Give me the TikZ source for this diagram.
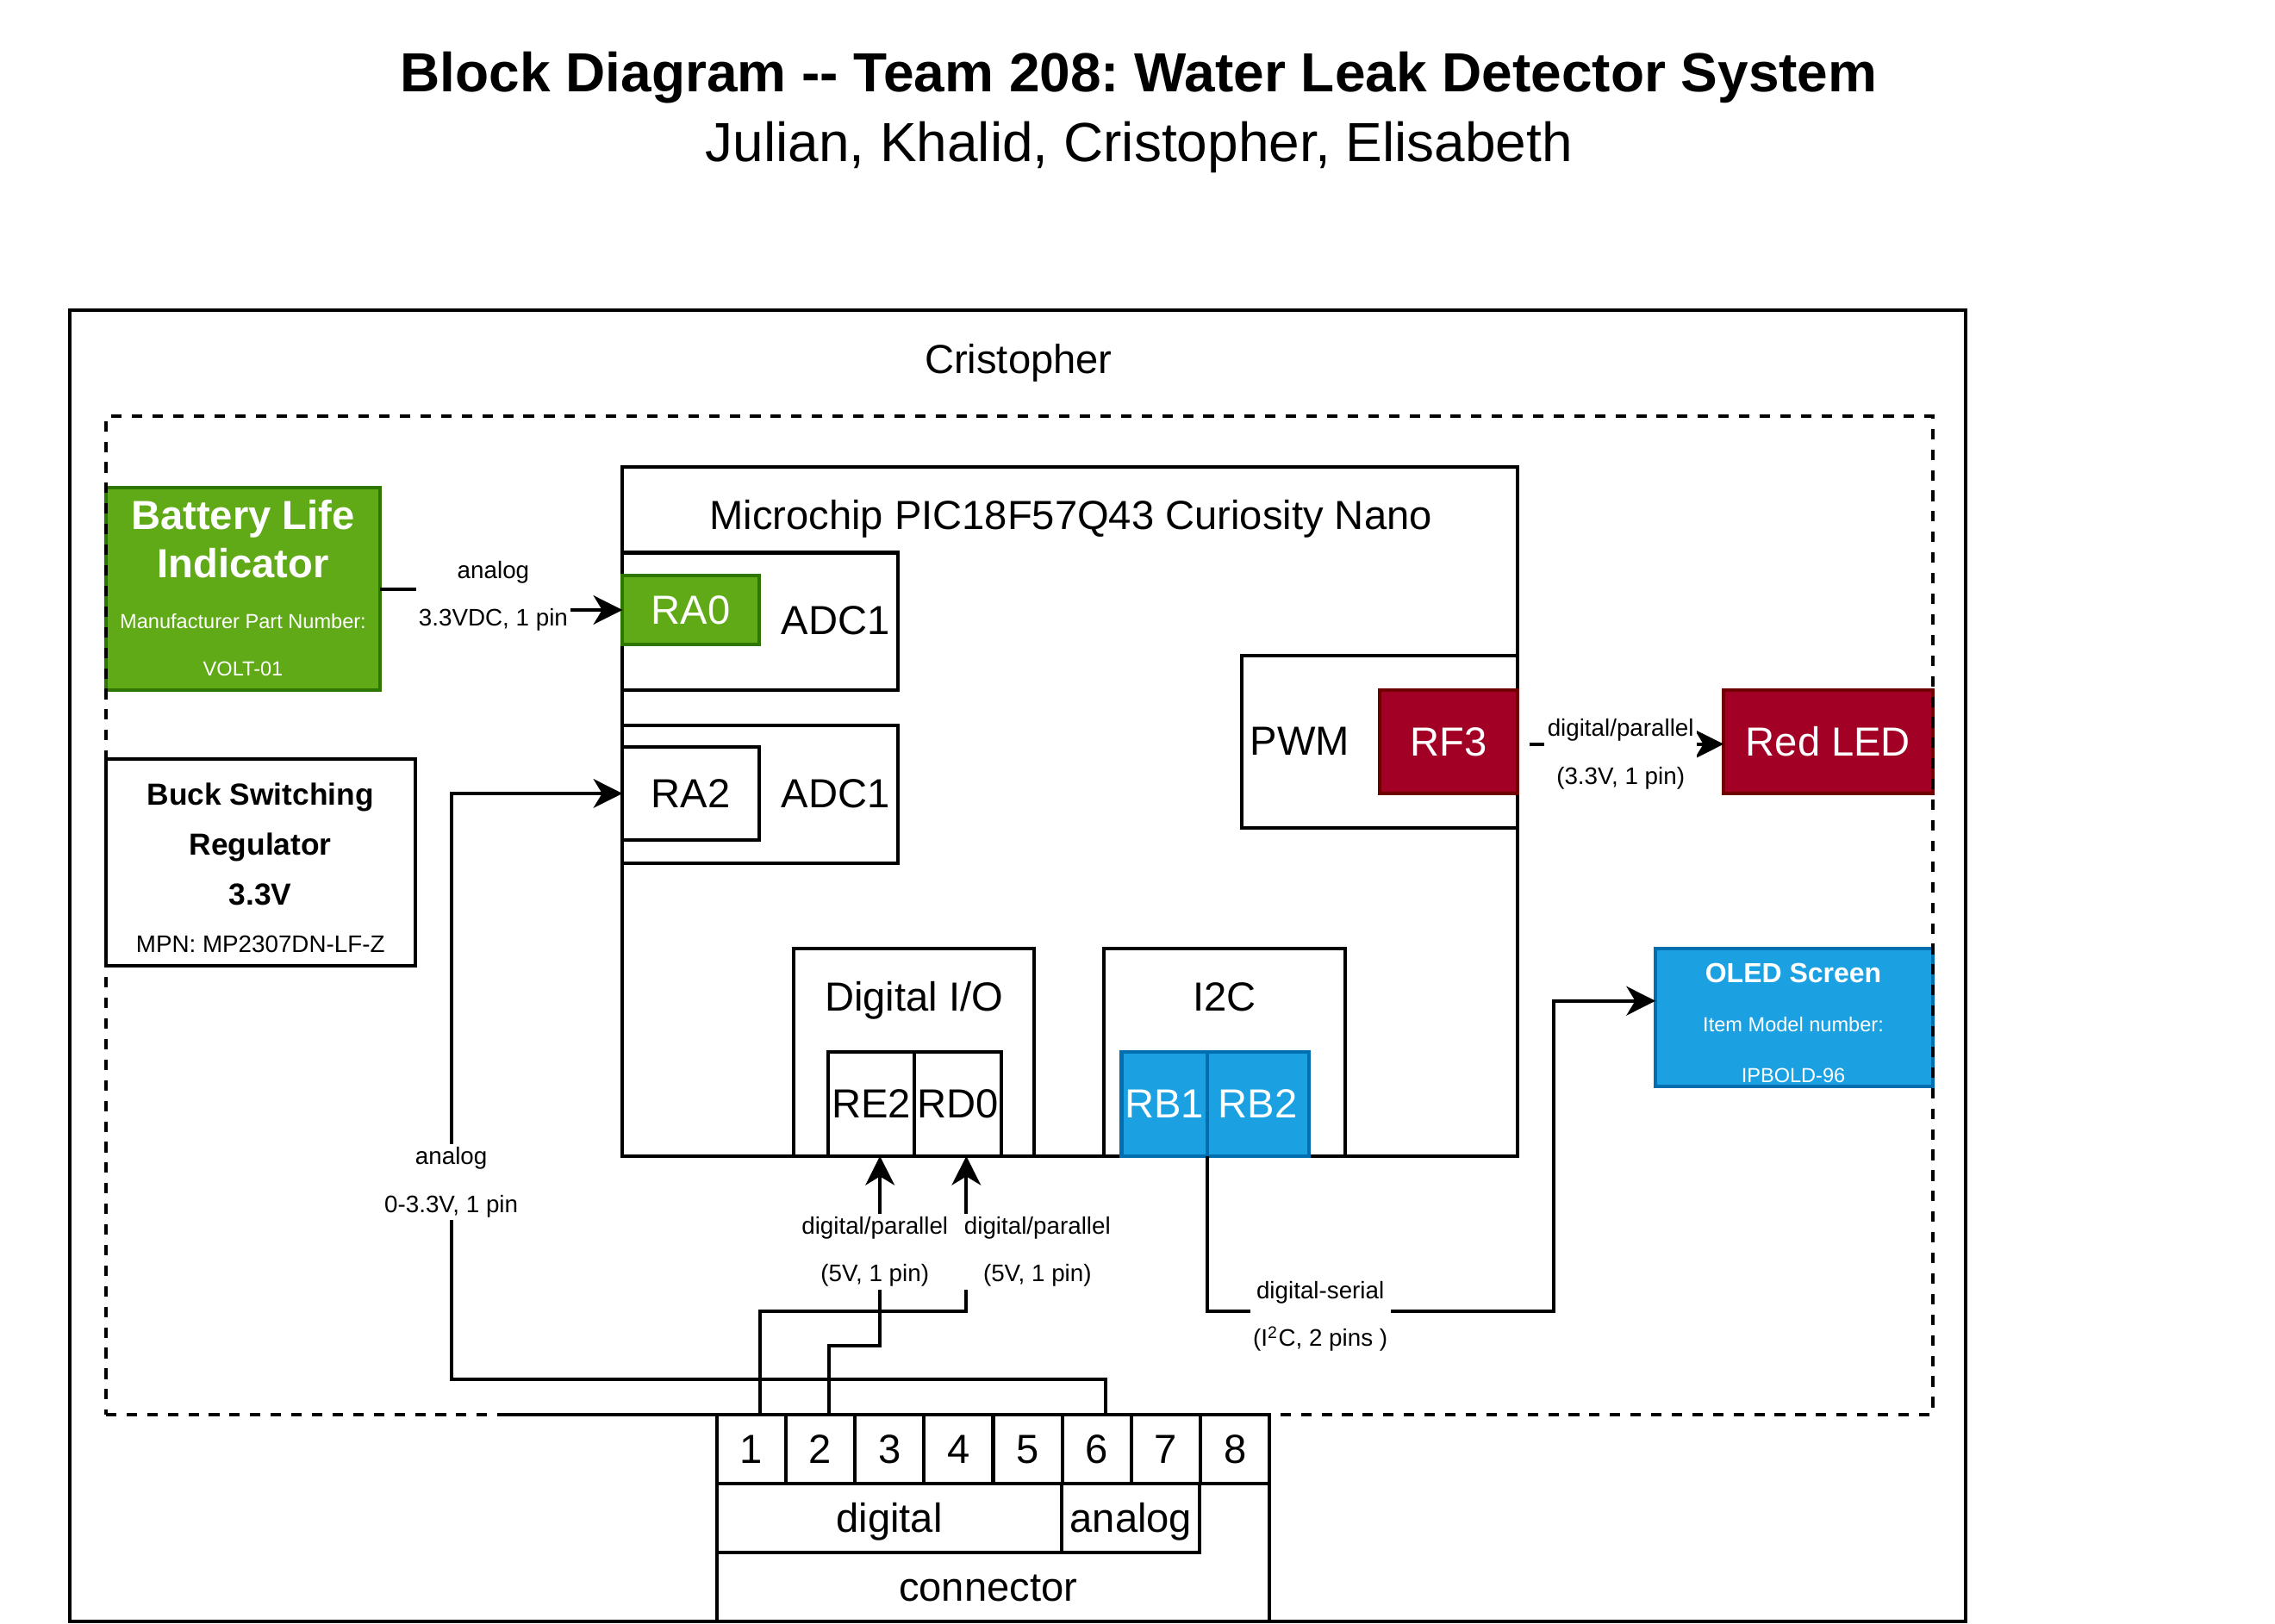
\documentclass[tikz,border=0pt]{standalone}
\usepackage{fontspec}
\setmainfont{Liberation Sans}
\usetikzlibrary{arrows.meta,calc}
\definecolor{gfill}{HTML}{60A917}
\definecolor{gline}{HTML}{2D7600}
\definecolor{rfill}{HTML}{A20025}
\definecolor{rline}{HTML}{6F0000}
\definecolor{bfill}{HTML}{1BA1E2}
\definecolor{bline}{HTML}{006EAF}
\frenchspacing
\tikzset{
  wire/.style={line width=1.2pt, draw=black},
  arr/.style={-{Stealth[length=10pt,width=10pt,inset=3pt]}},
  box/.style={draw=black, line width=1.2pt, fill=white, rectangle, inner sep=0pt},
  gbox/.style={box, fill=gfill, draw=gline, text=white},
  rbox/.style={box, fill=rfill, draw=rline, text=white},
  bbox/.style={box, fill=bfill, draw=bline, text=white},
  big/.style={font=\fontsize{14}{16.5}\selectfont, text height=12.67pt, text depth=2.97pt},
  huge/.style={font=\fontsize{19}{22}\selectfont, text height=17.2pt, text depth=4.03pt},
  lab/.style={fill=white, inner sep=1pt, align=center, font=\fontsize{8.25}{16.5}\selectfont},
  txt/.style={inner sep=0pt, align=center},
  group/.style={draw=black, line width=1.2pt, dash pattern=on 3.6pt off 3.5pt, rectangle, inner sep=0pt},
}
\begin{document}
\begin{tikzpicture}[x=0.5pt,y=-0.5pt, every node/.style={inner sep=0pt, outer sep=0pt}]
\useasboundingbox[fill=white] (0,0) rectangle (1568,1119);

% titles
\node[huge, font=\fontsize{19}{22}\selectfont\bfseries] (title) at (785,50) {Block Diagram {-}{-} Team 208: Water Leak Detector System};
\node[huge] (sub) at (785,98) {Julian, Khalid, Cristopher, Elisabeth};

% outer frame
\node[box, minimum width=653.5pt, minimum height=452pt] (outer) at (701.5,666) {};
\node[big] (crist) at (702,248) {Cristopher};

% battery
\node[gbox, minimum width=94.5pt, minimum height=70pt] (battery) at (167.5,406) {};
\node[txt, text=white, font=\fontsize{14}{16.5}\selectfont\bfseries] (battxt) at (167.5,371.5) {Battery Life\\Indicator};
\node[txt, text=white, font=\fontsize{7}{16.5}\selectfont] (batmpn) at (167.5,444.5) {Manufacturer Part Number:\\VOLT-01};

% buck
\node[box, minimum width=106.5pt, minimum height=71.5pt] (buck) at (179.5,594.5) {};
\node[txt, font=\fontsize{10.5}{17.2}\selectfont\bfseries] (bucktxt) at (179.5,582) {Buck Switching\\Regulator\\3.3V};
\node[txt, font=\fontsize{8.25}{10}\selectfont] (buckmpn) at (179.5,651) {MPN: MP2307DN-LF-Z};

% microcontroller
\node[box, minimum width=308.5pt, minimum height=237.5pt] (mcu) at (737.5,559.5) {};
\node[big] (mcutxt) at (738,355) {Microchip PIC18F57Q43 Curiosity Nano};
\node[box, minimum width=95pt, minimum height=47.5pt] (adca) at (524,428.5) {};
\node[gbox, big, minimum width=47pt, minimum height=23.5pt] (ra0) at (476,420.5) {RA0};
\node[big] (adcatxt) at (576,428) {ADC1};
\node[box, minimum width=95pt, minimum height=47.5pt] (adcb) at (524,547.5) {};
\node[box, big, minimum width=47pt, minimum height=32pt] (ra2) at (476,547) {RA2};
\node[big] (adcbtxt) at (576,547) {ADC1};
\node[box, minimum width=95pt, minimum height=59.5pt] (pwm) at (951,511.5) {};
\node[big] (pwmtxt) at (896,511) {PWM};
\node[rbox, big, minimum width=47.5pt, minimum height=35.5pt] (rf3) at (998.5,511.5) {RF3};
\node[box, minimum width=83pt, minimum height=71.5pt] (dio) at (630,725.5) {};
\node[big] (diotxt) at (630,687) {Digital I/O};
\node[box, big, minimum width=29.5pt, minimum height=36pt] (re2) at (600.5,761) {RE2};
\node[box, big, minimum width=30pt, minimum height=36pt] (rd0) at (660,761) {RD0};
\node[box, minimum width=83pt, minimum height=71.5pt] (i2c) at (844,725.5) {};
\node[big] (i2ctxt) at (844,687) {I2C};
\node[bbox, big, minimum width=29.5pt, minimum height=36pt] (rb1) at (802.5,761) {RB1};
\node[bbox, big, minimum width=35pt, minimum height=36pt] (rb2) at (867,761) {RB2};

% peripherals
\node[rbox, big, minimum width=72pt, minimum height=35.5pt] (led) at (1260,511.5) {Red LED};
\node[bbox, minimum width=95.5pt, minimum height=47.5pt] (oled) at (1236.5,701.5) {};
\node[txt, text=white, font=\fontsize{9.5}{11}\selectfont\bfseries] (oledt) at (1236,671) {OLED Screen};
\node[txt, text=white, font=\fontsize{7}{17.5}\selectfont] (oledm) at (1236,723.5) {Item Model number:\\IPBOLD-96};

% connector
\node[box, minimum width=190.5pt, minimum height=71.5pt] (conn) at (684.5,1046.5) {};
\foreach \i in {1,...,8} {
  \node[box, big, minimum width=23.8125pt, minimum height=24pt] (pin\i) at ({494+47.625*(\i-0.5)},999) {\i};
}
\node[box, big, minimum width=119pt, minimum height=23.5pt] (dig) at (613,1046.5) {digital};
\node[box, big, minimum width=47.5pt, minimum height=23.5pt] (ana) at (779.5,1046.5) {analog};
\node[big] (conntxt) at (681,1094) {connector};

% connectors
\coordinate (c1) at (340,408);
\draw[wire, arr] (battery.east) -| (c1) |- (ra0.west);
\node[lab] (l1) at (340,411) {analog\\3.3VDC, 1 pin};

\coordinate (c2) at (311,815);
\draw[wire, arr] ($(pin6.north)+(6,0)$) -- ++(0,-24) -| (c2) |- (ra2.west);
\node[lab] (l2) at (c2) {analog\\0-3.3V, 1 pin};

\draw[wire, arr] ($(pin2.north)+(6,0)$) -- ++(0,-47) -| ($(re2.south)+(6,0)$);
\draw[wire, arr] ($(pin1.north)+(6,0)$) -- ++(0,-71) -| ($(rd0.south)+(6,0)$);
\node[lab] (l3) at (603,863) {digital/parallel\\(5V, 1 pin)};
\node[lab] (l4) at (715,863) {digital/parallel\\(5V, 1 pin)};

\coordinate (c5) at (910,904);
\coordinate (c6) at (1071,690);
\draw[wire, arr] (rb1.south east) |- (c5) -| (c6) -- ($(oled.west)+(0,-11.5)$);
\node[lab] (l5) at (910,907.5) {digital-serial\\(I\textsuperscript{2}C, 2 pins )};

\draw[wire, arr] ($(rf3.east)+(8,1.5)$) -- ($(led.west)+(0,1.5)$);
\node[lab] (l6) at (1117,520) {digital/parallel\\(3.3V, 1 pin)};

% dashed group
\node[group, minimum width=629.5pt, minimum height=344pt] (grp) at (702.5,631) {};
\coordinate (gs) at (347,975);
\draw[wire] (gs) -- (conn.north west);
\end{tikzpicture}
\end{document}
